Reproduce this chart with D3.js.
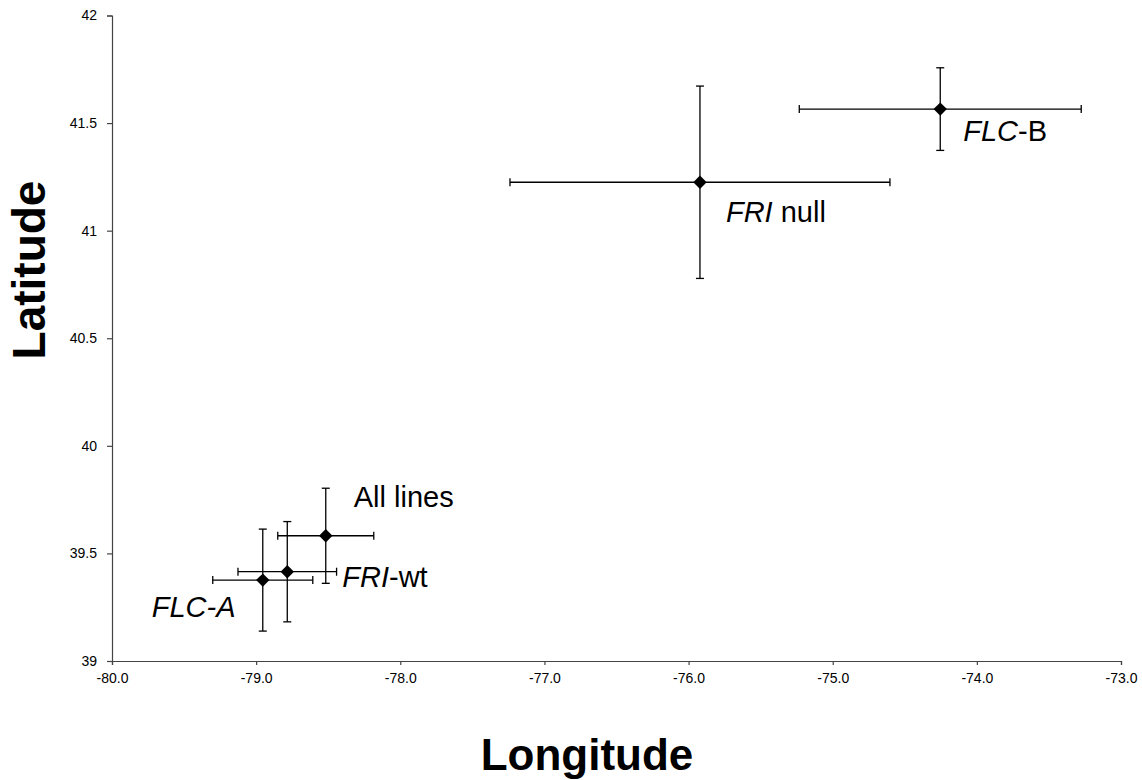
<!DOCTYPE html>
<html lang="en">
<head>
    <meta charset="UTF-8">
    <title>Latitude vs Longitude</title>
    <style>
        body { margin: 0; background: #fff; }
        svg text { font-family: Arial, "Liberation Sans", sans-serif; fill: #000; }
        .axis path, .axis line { stroke: #444; stroke-width: 1.2px; }
        .axis text { font-size: 14px; }
        .err line { stroke: #000; stroke-width: 1.3px; }
        .lbl { font-size: 29px; }
        .title { font-size: 44px; font-weight: bold; }
    </style>
    <script src="https://d3js.org/d3.v7.min.js"></script>
</head>
<body>
    <script>
        // groups and their mean position with error (half-widths)
        const groups = ["All lines", "FRI-wt", "FLC-A", "FRI null", "FLC-B"];
        const lon    = [-78.517, -78.784, -78.954, -75.921, -74.254];
        const lonErr = [0.333, 0.342, 0.347, 1.318, 0.978];
        const lat    = [39.582, 39.415, 39.376, 41.225, 41.565];
        const latErr = [0.221, 0.233, 0.237, 0.447, 0.192];

        // label pieces: [text, italic?]
        const labelParts = [
            [["All lines", false]],
            [["FRI", true], ["-wt", false]],
            [["FLC-A", true]],
            [["FRI", true], [" null", false]],
            [["FLC", true], ["-B", false]]
        ];

        const xTicks = [-80, -79, -78, -77, -76, -75, -74, -73];
        const yTicks = [39, 39.5, 40, 40.5, 41, 41.5, 42];

        const width = 1142, height = 780;
        const plotLeft = 112, plotRight = 1121, plotTop = 15.5, plotBottom = 661;

        // label offsets from the marker, in px
        const labelOffset = [[28, -29], [55, 15], [-111, 37], [26, 40], [23, 32]];

        const svg = d3.select("body").append("svg")
            .attr("width", width).attr("height", height);

        const x = d3.scaleLinear().domain([-80, -73]).range([plotLeft, plotRight]);
        const y = d3.scaleLinear().domain([39, 42]).range([plotBottom, plotTop]);

        const fmt = d3.formatLocale({decimal: ".", thousands: ",", grouping: [3], currency: ["", ""], minus: "-"}).format(".1f");

        svg.append("g").attr("class", "axis")
            .attr("transform", `translate(0,${plotBottom})`)
            .call(d3.axisBottom(x).tickValues(xTicks).tickFormat(fmt).tickSizeOuter(0).tickSize(4).tickPadding(8));

        svg.append("g").attr("class", "axis")
            .attr("transform", `translate(${plotLeft},0)`)
            .call(d3.axisLeft(y).tickValues(yTicks).tickFormat(d => String(d)).tickSizeOuter(0).tickSize(5).tickPadding(10));

        const data = groups.map((g, i) => ({
            name: g, lon: lon[i], lonErr: lonErr[i], lat: lat[i], latErr: latErr[i], parts: labelParts[i], off: labelOffset[i]
        }));

        const cap = 4;
        const pts = svg.append("g").selectAll("g").data(data).enter().append("g");

        const err = pts.append("g").attr("class", "err");
        err.append("line")
            .attr("x1", d => x(d.lon - d.lonErr)).attr("x2", d => x(d.lon + d.lonErr))
            .attr("y1", d => y(d.lat)).attr("y2", d => y(d.lat));
        err.append("line")
            .attr("x1", d => x(d.lon)).attr("x2", d => x(d.lon))
            .attr("y1", d => y(d.lat - d.latErr)).attr("y2", d => y(d.lat + d.latErr));
        // caps
        err.append("line")
            .attr("x1", d => x(d.lon - d.lonErr)).attr("x2", d => x(d.lon - d.lonErr))
            .attr("y1", d => y(d.lat) - cap).attr("y2", d => y(d.lat) + cap);
        err.append("line")
            .attr("x1", d => x(d.lon + d.lonErr)).attr("x2", d => x(d.lon + d.lonErr))
            .attr("y1", d => y(d.lat) - cap).attr("y2", d => y(d.lat) + cap);
        err.append("line")
            .attr("x1", d => x(d.lon) - cap).attr("x2", d => x(d.lon) + cap)
            .attr("y1", d => y(d.lat - d.latErr)).attr("y2", d => y(d.lat - d.latErr));
        err.append("line")
            .attr("x1", d => x(d.lon) - cap).attr("x2", d => x(d.lon) + cap)
            .attr("y1", d => y(d.lat + d.latErr)).attr("y2", d => y(d.lat + d.latErr));

        pts.append("path")
            .attr("d", d3.symbol(d3.symbolSquare, 90))
            .attr("fill", "#000")
            .attr("transform", d => `translate(${x(d.lon)},${y(d.lat)}) rotate(45)`);

        const lbl = pts.append("text").attr("class", "lbl")
            .attr("x", d => x(d.lon) + d.off[0])
            .attr("y", d => y(d.lat) + d.off[1]);
        lbl.selectAll("tspan").data(d => d.parts).enter().append("tspan")
            .style("font-style", p => p[1] ? "italic" : "normal")
            .attr("xml:space", "preserve")
            .text(p => p[0]);

        svg.append("text").attr("class", "title")
            .attr("x", 587).attr("y", 770)
            .attr("text-anchor", "middle")
            .text("Longitude");

        svg.append("text").attr("class", "title")
            .style("font-size", "46px")
            .attr("transform", "translate(45,270) rotate(-90)")
            .attr("text-anchor", "middle")
            .text("Latitude");
    </script>
</body>
</html>
